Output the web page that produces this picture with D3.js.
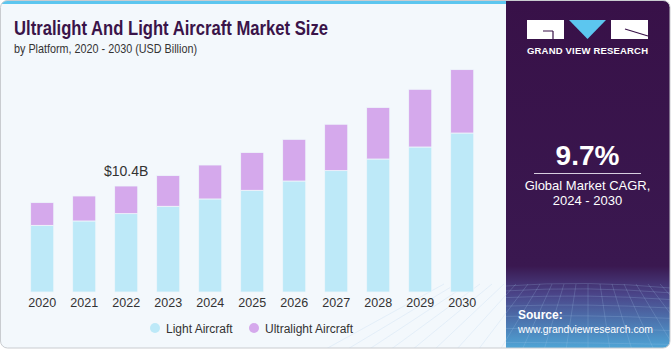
<!DOCTYPE html>
<html>
<head>
<meta charset="utf-8">
<script src="https://cdn.jsdelivr.net/npm/d3@7"></script>
<style>
  body { margin: 0; background: #fff; }
  svg { display: block; font-family: "Liberation Sans", Arial, sans-serif; }
</style>
</head>
<body>
<div id="chart"></div>
<script>
const years = ['2020', '2021', '2022', '2023', '2024', '2025', '2026', '2027', '2028', '2029', '2030'];
const lightAircraft = [6.54, 6.97, 7.69, 8.41, 9.13, 9.98, 10.89, 11.91, 13.05, 14.23, 15.60];
const ultralightAircraft = [2.23, 2.45, 2.71, 3.01, 3.33, 3.70, 4.09, 4.55, 5.05, 5.66, 6.22];
const seriesNames = ['Light Aircraft', 'Ultralight Aircraft'];
const colors = ['#bde9f8', '#d5a9ec'];

const width = 671, height = 350;

const svg = d3.select('#chart').append('svg')
  .attr('width', width)
  .attr('height', height);

const defs = svg.append('defs');
defs.append('clipPath').attr('id', 'card')
  .append('rect')
  .attr('x', 0.5).attr('y', 0.5)
  .attr('width', width - 1.5).attr('height', height - 2.5)
  .attr('rx', 7);

const grad = defs.append('linearGradient').attr('id', 'panelGrad')
  .attr('x1', 0).attr('y1', 0).attr('x2', 0).attr('y2', 1);
grad.append('stop').attr('offset', '0%').attr('stop-color', '#381148');
grad.append('stop').attr('offset', '76%').attr('stop-color', '#3a1850');
grad.append('stop').attr('offset', '84%').attr('stop-color', '#4a4488');
grad.append('stop').attr('offset', '100%').attr('stop-color', '#4fa8d8');

const card = svg.append('g').attr('clip-path', 'url(#card)');

// card background
card.append('rect')
  .attr('width', width).attr('height', height)
  .attr('fill', '#f3f8fc');

// top accent stripe
card.append('rect')
  .attr('x', 0).attr('y', 0)
  .attr('width', 506).attr('height', 4)
  .attr('fill', '#5cc6ef');

// right panel
const panelX = 506;
card.append('rect')
  .attr('x', panelX).attr('y', 0)
  .attr('width', width - panelX).attr('height', height)
  .attr('fill', 'url(#panelGrad)');

// faint grid texture at the bottom of the panel
const grid = card.append('g')
  .attr('stroke', '#a9c8ea')
  .attr('stroke-opacity', 0.3)
  .attr('stroke-width', 0.7)
  .attr('fill', 'none');
d3.range(0, 9).forEach(i => {
  const y = 286 + i * i * 0.9 + i * 4;
  grid.append('path')
    .attr('d', `M${panelX},${y} Q${panelX + 80},${y - 6 + i} ${width},${y + 2}`);
});
d3.range(-6, 14).forEach(i => {
  const xTop = panelX + 10 + i * 12;
  const xBot = panelX + 10 + i * 22 - 60;
  grid.append('path').attr('d', `M${xTop},284 L${xBot},350`);
});

// card outline
svg.append('rect')
  .attr('x', 0.5).attr('y', 0.5)
  .attr('width', width - 1.5).attr('height', height - 2.5)
  .attr('rx', 7)
  .attr('fill', 'none')
  .attr('stroke', '#c9ccd0');

// title
svg.append('text')
  .attr('x', 14).attr('y', 35)
  .attr('fill', '#3a1449')
  .attr('font-size', 21)
  .attr('font-weight', 'bold')
  .attr('textLength', 314)
  .attr('lengthAdjust', 'spacingAndGlyphs')
  .text('Ultralight And Light Aircraft Market Size');

svg.append('text')
  .attr('x', 14).attr('y', 53)
  .attr('fill', '#333')
  .attr('font-size', 13)
  .attr('textLength', 183)
  .attr('lengthAdjust', 'spacingAndGlyphs')
  .text('by Platform, 2020 - 2030 (USD Billion)');

// scales
const x = d3.scaleBand()
  .domain(years)
  .range([21.2, 483.2])
  .paddingInner(0.45)
  .paddingOuter(0.225);

const y = d3.scaleLinear()
  .domain([0, 22])
  .range([292, 67.8]);

const rows = years.map((yr, i) => ({
  year: yr,
  'Light Aircraft': lightAircraft[i],
  'Ultralight Aircraft': ultralightAircraft[i]
}));

const stacked = d3.stack().keys(seriesNames)(rows);

svg.append('g')
  .selectAll('g')
  .data(stacked)
  .join('g')
  .attr('fill', (d, i) => colors[i])
  .selectAll('rect')
  .data(d => d)
  .join('rect')
  .attr('x', d => x(d.data.year))
  .attr('y', d => y(d[1]))
  .attr('width', x.bandwidth())
  .attr('height', d => y(d[0]) - y(d[1]))
  .attr('stroke', '#eef6fb')
  .attr('stroke-width', 0.8);

// x axis labels
const xAxis = svg.append('g')
  .attr('transform', 'translate(0,293)')
  .call(d3.axisBottom(x).tickSize(0).tickPadding(5));
xAxis.select('.domain').remove();
xAxis.selectAll('text')
  .attr('font-size', 12.5)
  .attr('font-family', '"Liberation Sans", Arial, sans-serif')
  .attr('fill', '#333');

// value label for 2022
const labelIdx = 2;
svg.append('text')
  .attr('x', x(years[labelIdx]) + x.bandwidth() / 2)
  .attr('y', y(lightAircraft[labelIdx] + ultralightAircraft[labelIdx]) - 10)
  .attr('text-anchor', 'middle')
  .attr('font-size', 14)
  .attr('fill', '#333')
  .text('$10.4B');

// legend
const legend = svg.append('g').attr('transform', 'translate(155,328)');
const legendX = [0, 99];
seriesNames.forEach((name, i) => {
  const g = legend.append('g').attr('transform', `translate(${legendX[i]},0)`);
  g.append('circle').attr('r', 5).attr('fill', colors[i]);
  g.append('text')
    .attr('x', 11).attr('y', 4.5)
    .attr('font-size', 12)
    .attr('fill', '#333')
    .text(name);
});

// logo
const logo = svg.append('g');
logo.append('rect').attr('x', 527).attr('y', 20).attr('width', 37).attr('height', 19).attr('fill', '#fff');
logo.append('path')
  .attr('d', 'M543,31 L553,31 M553,31 L553,39')
  .attr('stroke', '#381148').attr('stroke-width', 1.2);
logo.append('path')
  .attr('d', 'M569,20 L606,20 L587.5,39 Z')
  .attr('fill', '#5cc6ef');
logo.append('rect').attr('x', 611).attr('y', 20).attr('width', 37).attr('height', 19).attr('fill', '#fff');
logo.append('path')
  .attr('d', 'M625,29 L648,36')
  .attr('stroke', '#381148').attr('stroke-width', 1.2);
logo.append('text')
  .attr('x', 587.5).attr('y', 54)
  .attr('text-anchor', 'middle')
  .attr('fill', '#fff')
  .attr('font-size', 9.5)
  .attr('font-weight', 'bold')
  .attr('textLength', 121)
  .attr('lengthAdjust', 'spacing')
  .text('GRAND VIEW RESEARCH');

// CAGR block
svg.append('text')
  .attr('x', 587.5).attr('y', 165)
  .attr('text-anchor', 'middle')
  .attr('fill', '#fff')
  .attr('font-size', 28)
  .attr('font-weight', 'bold')
  .text('9.7%');
svg.append('line')
  .attr('x1', 534).attr('x2', 641)
  .attr('y1', 173.5).attr('y2', 173.5)
  .attr('stroke', '#d8cfe0').attr('stroke-width', 1);
svg.append('text')
  .attr('x', 587.5).attr('y', 190)
  .attr('text-anchor', 'middle')
  .attr('fill', '#fff')
  .attr('font-size', 13)
  .text('Global Market CAGR,');
svg.append('text')
  .attr('x', 587.5).attr('y', 205)
  .attr('text-anchor', 'middle')
  .attr('fill', '#fff')
  .attr('font-size', 13)
  .text('2024 - 2030');

// source
svg.append('text')
  .attr('x', 518).attr('y', 319)
  .attr('fill', '#fff')
  .attr('font-size', 12)
  .attr('font-weight', 'bold')
  .text('Source:');
svg.append('text')
  .attr('x', 518).attr('y', 333)
  .attr('fill', '#fff')
  .attr('font-size', 11.5)
  .attr('textLength', 135)
  .attr('lengthAdjust', 'spacingAndGlyphs')
  .text('www.grandviewresearch.com');
</script>
</body>
</html>
